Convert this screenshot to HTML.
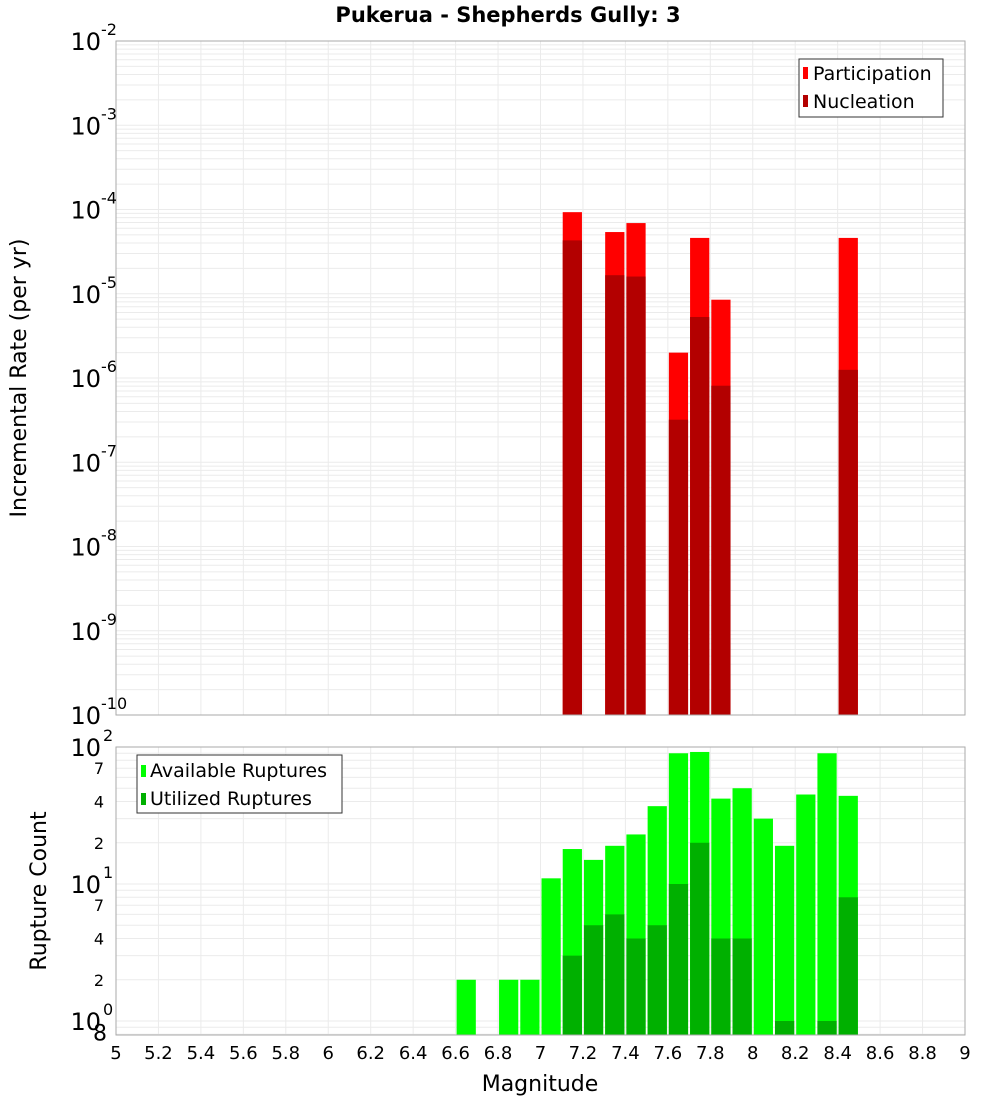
<!DOCTYPE html>
<html><head><meta charset="utf-8"><style>
body{margin:0;background:#fff}
svg text{font-family:"DejaVu Sans","Liberation Sans",sans-serif}
</style></head><body>
<svg id="c" width="1000" height="1100" xmlns="http://www.w3.org/2000/svg"></svg>
<script>
const mags=[7.1,7.3,7.4,7.6,7.7,7.8,8.4];
const participation=[9.3e-5,5.4e-5,6.9e-5,2.0e-6,4.6e-5,8.5e-6,4.6e-5];
const nucleation=[4.3e-5,1.66e-5,1.6e-5,3.2e-7,5.3e-6,8.1e-7,1.25e-6];
const cmags=[6.6,6.8,6.9,7.0,7.1,7.2,7.3,7.4,7.5,7.6,7.7,7.8,7.9,8.0,8.1,8.2,8.3,8.4];
const available=[2,2,2,11,18,15,19,23,37,90,92,42,50,30,19,45,90,44];
const utilized=[0,0,0,0,3,5,6,4,5,10,20,4,4,0,1,0,1,8];
const xTicks=[5,5.2,5.4,5.6,5.8,6,6.2,6.4,6.6,6.8,7,7.2,7.4,7.6,7.8,8,8.2,8.4,8.6,8.8,9];
const topExps=[-2,-3,-4,-5,-6,-7,-8,-9,-10];
const NS="http://www.w3.org/2000/svg";
const svg=document.getElementById('c');
function el(t,a,p){const e=document.createElementNS(NS,t);for(const k in a)e.setAttribute(k,a[k]);(p||svg).appendChild(e);return e;}
const L=116,R=965;
const X=m=>L+(m-5)/4*(R-L);
const T0=41,T1=715;
const YT=v=>T0+(-2-Math.log10(v))/8*(T1-T0);
const B0=747,B1=1035,BD=137;
const YB=v=>B0+(2-Math.log10(v))*BD;
const g=el('g',{});

xTicks.forEach(t=>{el('line',{x1:X(t),x2:X(t),y1:T0,y2:T1,stroke:'#ebebeb'},g);el('line',{x1:X(t),x2:X(t),y1:B0,y2:B1,stroke:'#ebebeb'},g);});
for(let e=-10;e<-2;e++)for(let k=1;k<10;k++){const y=YT(k*Math.pow(10,e));el('line',{x1:L,x2:R,y1:y,y2:y,stroke:'#ebebeb'},g);}
for(let e=-1;e<2;e++)for(let k=1;k<10;k++){const v=k*Math.pow(10,e);if(v<0.8)continue;const y=YB(v);el('line',{x1:L,x2:R,y1:y,y2:y,stroke:'#ebebeb'},g);}
mags.forEach((m,i)=>{
 const x=X(m)+1,w=X(m+0.1)-X(m)-2;
 let r=el('rect',{x:x,y:YT(participation[i]),width:w,height:T1-YT(participation[i]),fill:'#ff0000'});
 
 r=el('rect',{x:x,y:YT(nucleation[i]),width:w,height:T1-YT(nucleation[i]),fill:'#b30000'});
 
});
cmags.forEach((m,i)=>{
 const x=X(m)+1,w=X(m+0.1)-X(m)-2;
 let r=el('rect',{x:x,y:YB(available[i]),width:w,height:B1-YB(available[i]),fill:'#00ff00'});
 
 if(utilized[i]>0){r=el('rect',{x:x,y:YB(utilized[i]),width:w,height:B1-YB(utilized[i]),fill:'#00b000'});
 }
});
let f=el('rect',{x:L,y:T0,width:R-L,height:T1-T0,fill:'none',stroke:'#aaa'});

f=el('rect',{x:L,y:B0,width:R-L,height:B1-B0,fill:'none',stroke:'#aaa'});

topExps.forEach(e=>{const y=YT(Math.pow(10,e));
 const t=el('text',{x:101,y:y+9,'font-size':24,'text-anchor':'end'});t.textContent='10';
 
 const s=el('text',{x:101,y:y-6,'font-size':16});s.textContent=String(e);
 });
[[2,'2'],[1,'1'],[0,'0']].forEach(([e,s])=>{const y=YB(Math.pow(10,e));
 const t=el('text',{x:101,y:y+9,'font-size':24,'text-anchor':'end'});t.textContent='10';
 
 const u=el('text',{x:103,y:y-6,'font-size':16});u.textContent=s;
 });
[[70,'7'],[40,'4'],[20,'2'],[7,'7'],[4,'4'],[2,'2'],[0.8,'8']].forEach(([v,s])=>{
 const t=el('text',{x:v===0.8?107:104,y:YB(v)+6,'font-size':v===0.8?22:16,'text-anchor':'end'});t.textContent=s;
 });
xTicks.forEach(t=>{const e=el('text',{x:X(t),y:1059,'font-size':18,'text-anchor':'middle'});e.textContent=String(t);
 });
</script>
<svg width="1000" height="1100" style="position:absolute;left:0;top:0" xmlns="http://www.w3.org/2000/svg">
<text x="508" y="22" font-size="21" font-weight="bold" text-anchor="middle" font-family="DejaVu Sans,Liberation Sans,sans-serif">Pukerua - Shepherds Gully: 3</text>
<text x="540" y="1091" font-size="22" text-anchor="middle" font-family="DejaVu Sans,Liberation Sans,sans-serif">Magnitude</text>
<text transform="translate(26,378) rotate(-90)" font-size="22" text-anchor="middle" font-family="DejaVu Sans,Liberation Sans,sans-serif">Incremental Rate (per yr)</text>
<text transform="translate(46,891) rotate(-90)" font-size="22" text-anchor="middle" font-family="DejaVu Sans,Liberation Sans,sans-serif">Rupture Count</text>
<g>
<rect x="799" y="59" width="144" height="58" fill="#fff" stroke="#333"/>
<rect x="803" y="67" width="5" height="12" fill="#ff0000"/>
<text x="813" y="80" font-size="19" font-family="DejaVu Sans,Liberation Sans,sans-serif">Participation</text>
<rect x="803" y="95" width="5" height="12" fill="#b30000"/>
<text x="813" y="108" font-size="19" font-family="DejaVu Sans,Liberation Sans,sans-serif">Nucleation</text>
</g>
<g>
<rect x="137" y="755" width="205" height="58" fill="#fff" stroke="#333"/>
<rect x="141" y="765" width="5" height="12" fill="#00ff00"/>
<text x="150" y="777" font-size="19" font-family="DejaVu Sans,Liberation Sans,sans-serif">Available Ruptures</text>
<rect x="141" y="793" width="5" height="12" fill="#00b000"/>
<text x="150" y="805" font-size="19" font-family="DejaVu Sans,Liberation Sans,sans-serif">Utilized Ruptures</text>
</g>
</svg>
</body></html>
